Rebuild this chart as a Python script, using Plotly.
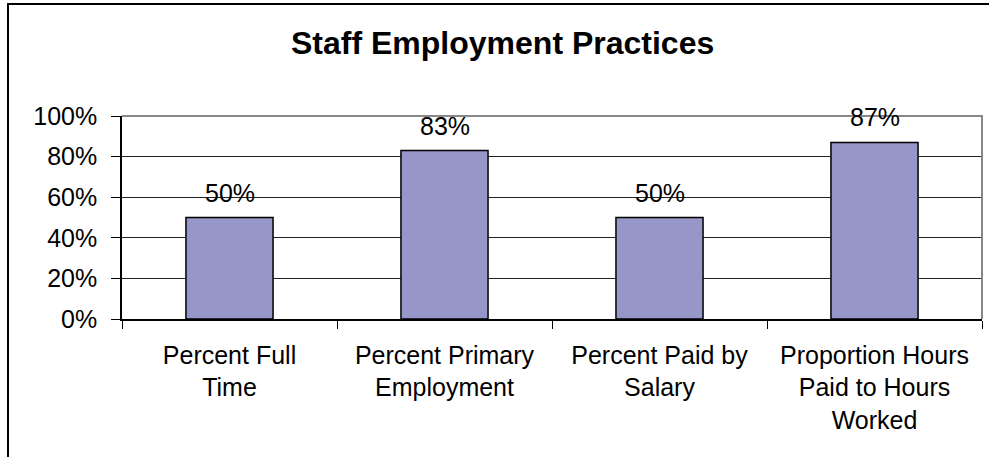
import plotly.graph_objects as go

# Chart data
categories = [
    "Percent Full<br>Time",
    "Percent Primary<br>Employment",
    "Percent Paid by<br>Salary",
    "Proportion Hours<br>Paid to Hours<br>Worked",
]
values = [50, 83, 50, 87]
y_ticks = [0, 20, 40, 60, 80, 100]
y_tick_labels = ["0%", "20%", "40%", "60%", "80%", "100%"]
title_text = "Staff Employment Practices"

FONT = "Liberation Sans, Arial, sans-serif"
BAR_COLOR = "#9696C8"

W, H = 989, 457
ML, MR, MT, MB = 122, 7, 116, 138
plot_w = W - ML - MR
plot_h = H - MT - MB

fig = go.Figure()
fig.add_trace(go.Bar(
    x=categories,
    y=values,
    marker=dict(color=BAR_COLOR, line=dict(color="#000000", width=1.5)),
    hoverinfo="skip",
))

# value labels above each bar
annotations = []
for cat, v in zip(categories, values):
    annotations.append(dict(
        x=cat, y=v, xref="x", yref="y",
        text=f"{v}%", showarrow=False,
        yanchor="bottom", yshift=9,
        font=dict(family=FONT, size=25, color="#000000"),
    ))

# chart title
annotations.append(dict(
    x=(502 - ML) / plot_w, y=(H - MB - 43) / plot_h,
    xref="paper", yref="paper",
    text=f"<b>{title_text}</b>", showarrow=False,
    xanchor="center", yanchor="middle",
    font=dict(family=FONT, size=32, color="#000000"),
))

shapes = [
    # plot-area border (top and right edges)
    dict(type="path", xref="paper", yref="paper",
         path="M 0,1 L 1,1 L 1,0",
         line=dict(color="#888888", width=2), layer="above"),
    # outer chart frame
    dict(type="rect", xref="paper", yref="paper",
         x0=(8 - ML) / plot_w, x1=(W + 20 - ML) / plot_w,
         y0=-(MB + 20) / plot_h, y1=(H - MB - 4) / plot_h,
         line=dict(color="#000000", width=2), layer="above"),
]

fig.update_layout(
    width=W, height=H,
    margin=dict(l=ML, r=MR, t=MT, b=MB, pad=0),
    paper_bgcolor="#FFFFFF",
    plot_bgcolor="#FFFFFF",
    showlegend=False,
    bargap=0.595,
    font=dict(family=FONT, size=25, color="#000000"),
    annotations=annotations,
    shapes=shapes,
    xaxis=dict(
        type="category",
        tickson="boundaries",
        ticks="outside", ticklen=8, tickwidth=1, tickcolor="#000000",
        showline=True, linecolor="#000000", linewidth=1.5,
        showgrid=False,
        tickfont=dict(family=FONT, size=25, color="#000000"),
        ticklabelstandoff=13,
        fixedrange=True,
    ),
    yaxis=dict(
        range=[0, 100],
        tickvals=y_ticks, ticktext=y_tick_labels,
        ticks="outside", ticklen=9, tickwidth=1, tickcolor="#000000",
        showline=True, linecolor="#000000", linewidth=1.5,
        showgrid=True, gridcolor="#222222", gridwidth=1,
        zeroline=False,
        tickfont=dict(family=FONT, size=25, color="#000000"),
        ticklabelstandoff=9,
        fixedrange=True,
    ),
)

fig.write_html("out.html", config={"displayModeBar": False})
